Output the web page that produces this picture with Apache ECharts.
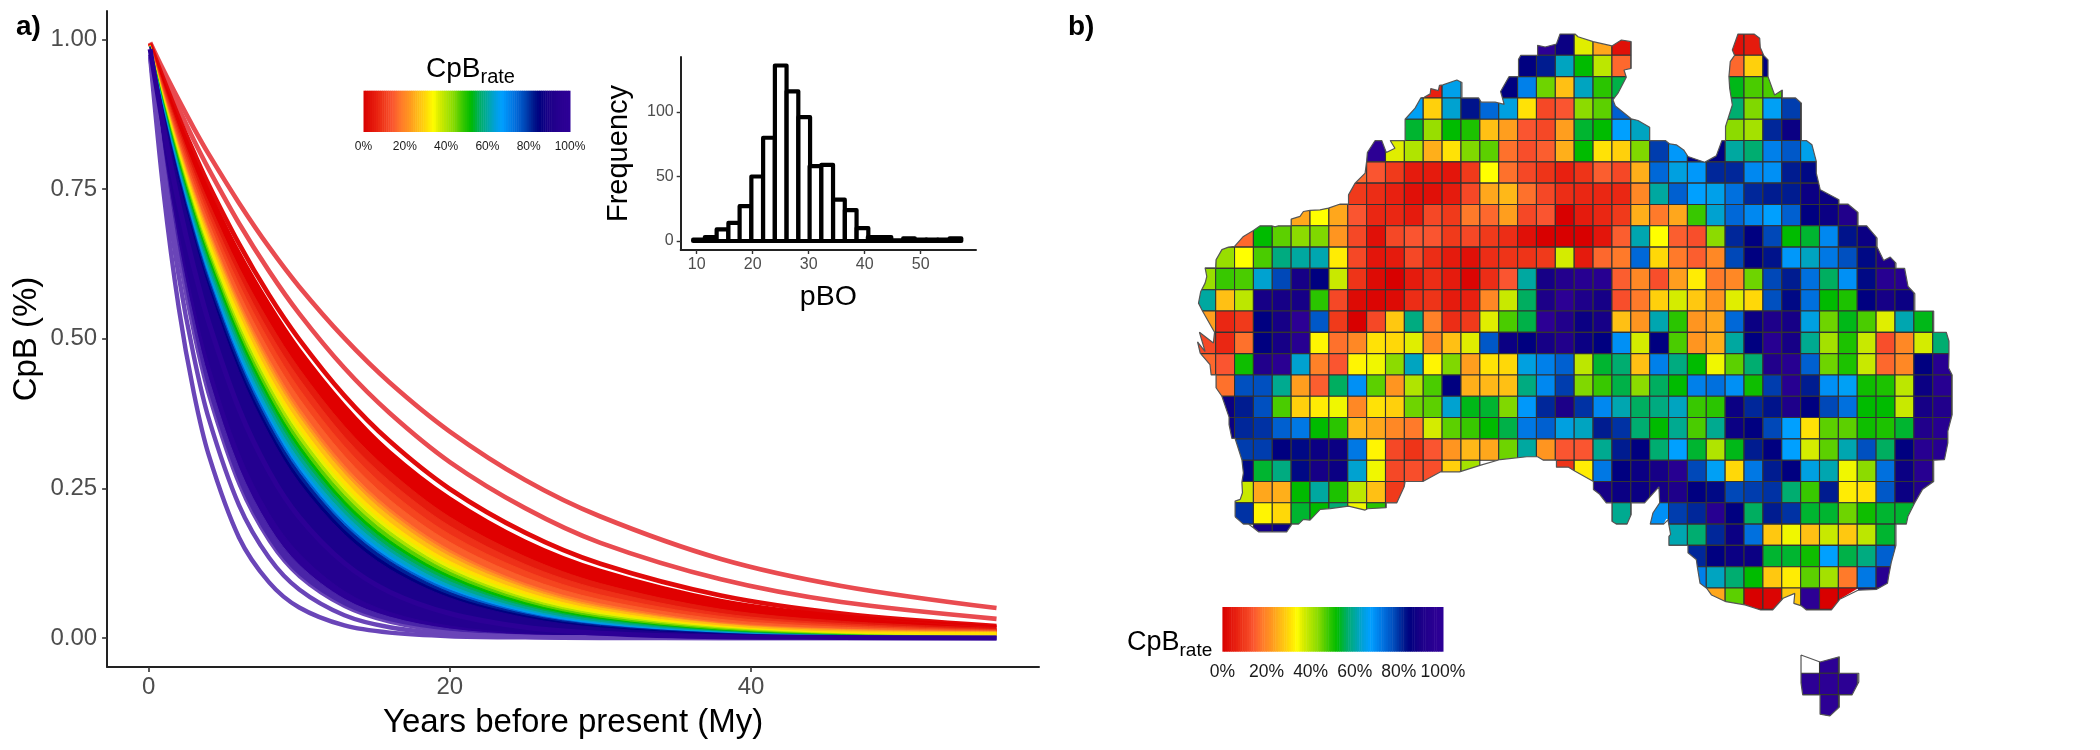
<!DOCTYPE html>
<html><head><meta charset="utf-8">
<style>html,body{margin:0;padding:0;background:#fff}#c{width:2100px;height:750px}</style>
<script src="https://cdn.jsdelivr.net/npm/echarts@6/dist/echarts.min.js"></script>
</head><body><div id="c"></div>
<script>
// ---------- panel a: CpB curves ----------
const years=[0.1,1,2,3,4,6,8,10,13,16,20,25,30,38,46,56.3];
const lightRed1=[.995,.948,.899,.852,.808,.727,.653,.587,.501,.427,.345,.264,.203,.132,.087,.050];
const lightRed2=[.994,.941,.885,.832,.783,.693,.613,.542,.451,.376,.294,.217,.159,.098,.060,.032];
const darkRed=[.993,.933,.870,.812,.757,.659,.573,.499,.405,.329,.249,.176,.124,.071,.041,.020];
const purpleOuter=[.971,.743,.552,.410,.305,.168,.093,.051,.021,.009,.003,.001,0,0,0,0];
const purpleInner=[.975,.778,.605,.471,.366,.222,.134,.081,.038,.018,.007,.002,.001,0,0,0];
const bandEdges=[
[.993,.930,.865,.805,.748,.647,.560,.484,.390,.313,.235,.163,.114,.064,.038,.020],
[.992,.923,.852,.787,.727,.619,.528,.450,.354,.279,.202,.136,.091,.048,.028,.016],
[.992,.920,.846,.778,.715,.605,.511,.433,.336,.262,.187,.123,.081,.041,.024,.014],
[.991,.916,.839,.769,.704,.591,.496,.416,.320,.246,.173,.112,.072,.036,.021,.013],
[.991,.912,.832,.759,.693,.577,.480,.400,.304,.231,.160,.101,.064,.031,.018,.012],
[.990,.909,.826,.750,.682,.563,.465,.384,.288,.216,.147,.091,.057,.026,.015,.011],
[.990,.907,.822,.746,.677,.556,.458,.376,.281,.210,.142,.087,.053,.024,.014,.010],
[.990,.905,.819,.741,.671,.550,.450,.369,.274,.203,.136,.083,.050,.023,.012,.010],
[.990,.902,.814,.735,.663,.540,.439,.358,.263,.193,.128,.077,.046,.020,.010,.009],
[.989,.900,.810,.729,.656,.531,.430,.348,.254,.185,.121,.072,.042,.018,.008,.004],
[.989,.898,.806,.723,.649,.523,.422,.340,.246,.178,.115,.067,.039,.017,.007,.002],
[.989,.895,.802,.718,.643,.515,.413,.331,.238,.171,.110,.063,.036,.015,.006,.002],
[.989,.893,.797,.712,.636,.507,.404,.322,.229,.163,.104,.059,.033,.013,.005,.002],
[.988,.891,.793,.707,.629,.499,.396,.314,.222,.157,.099,.055,.031,.012,.005,.001],
[.988,.888,.789,.701,.623,.492,.388,.306,.215,.150,.094,.052,.029,.011,.004,.001],
[.988,.886,.785,.695,.615,.483,.379,.297,.207,.144,.088,.048,.026,.010,.004,.001],
[.988,.883,.780,.689,.608,.475,.370,.289,.199,.137,.083,.045,.024,.009,.003,.001],
[.987,.881,.776,.684,.603,.468,.364,.282,.193,.132,.080,.042,.022,.008,.003,.001],
[.987,.879,.773,.680,.598,.462,.357,.276,.188,.128,.076,.040,.021,.008,.003,.001],
[.987,.876,.768,.673,.590,.453,.348,.267,.180,.121,.071,.037,.019,.007,.002,.001],
[.987,.874,.763,.667,.583,.445,.340,.259,.173,.115,.067,.034,.017,.006,.002,.001],
[.984,.852,.726,.619,.527,.383,.278,.202,.125,.077,.041,.018,.008,.002,.001,0],
[.981,.822,.676,.555,.457,.309,.208,.141,.078,.043,.020,.007,.003,.001,0,0],
[.979,.811,.657,.533,.432,.284,.186,.122,.065,.035,.015,.005,.002,0,0,0],
];
const bandLowerEdge=[.977,.796,.634,.505,.402,.255,.161,.102,.052,.026,.010,.003,.001,0,0,0];
const bandColors=['#e00000','#e51a0d','#ee3018','#f5451f','#fb5e2a','#ff7a2a','#ff9a20','#ffbe12','#ffe000','#e8f000','#a8e400','#58d000','#00bb00','#00b050','#00a890','#00a4c8','#0098f0','#0060d0','#002098','#000080','#1c008c','#240090','#2c0096','#4a25a8'];
const xTicks=[0,20,40];
const yTicks=[0,.25,.5,.75,1];

// ---------- inset: histogram of pBO ----------
const pboBins=[10.4,12.5,14.6,16.7,18.7,20.8,22.9,25,27.1,29.2,31.2,33.3,35.4,37.5,39.6,41.6,43.7,45.8,47.9,50,52,54.1,56.2];
const pboCounts=[1,3,9,14,27,50,80,136,116,96,58,59,32,24,10,3,3,.5,2,1,1,1,2];
const pboBinWidth=2.083;
const insetXTicks=[10,20,30,40,50];
const insetYTicks=[0,50,100];

// ---------- colour scale of CpB rate ----------
const rampValues=[0,6,10,14,18,22,26,30,34,36,40,44,48,52,56,60,64,67,70,74,78,82,85,90,97,100];
const rampColors=['#d80000','#e82010','#f03a1b','#fa5530','#ff7a2a','#ff9520','#ffb818','#ffd808','#ffff00','#e0ee00','#b0e400','#80d800','#38c800','#00bb00','#00ae60','#00a8a0','#00a0e0','#00a0ff','#0088f0','#0068d8','#0048b8','#001c90','#000080','#1c0088','#2c0094','#2c0096'];
const legendTicks=[0,20,40,60,80,100];

// ---------- panel b: CpB rate per map cell, [first column, values of the row] ----------
const _=null;
const cellRows=[
[18,[97,87,36,24,3,_,_,_,_,_,3,5]],
[17,[85,82,62,52,39,16,_,_,_,_,_,16,29,85]],
[12,[6,65,_,_,85,71,45,27,62,49,55,_,_,_,_,_,53,47,47]],
[11,[66,29,63,83,74,64,31,12,14,43,46,75,_,_,_,_,_,57,44,66,79]],
[11,[54,42,52,50,27,23,14,12,23,54,52,67,62,_,_,_,_,43,41,81,87]],
[9,[97,36,40,25,31,44,46,17,13,15,25,52,31,29,44,79,68,85,85,60,57,71,76,65]],
[8,[16,14,10,5,5,4,10,34,17,12,9,6,9,15,12,25,74,64,68,81,81,70,69,82,84]],
[8,[10,8,6,3,3,5,12,24,26,17,12,8,7,7,7,20,60,75,67,65,73,81,82,82,87,87]],
[5,[24,34,24,14,7,7,5,12,10,18,16,23,12,14,0,5,7,10,25,18,24,48,63,74,70,67,75,85,87,92]],
[2,[16,52,46,43,44,22,12,3,12,14,14,10,12,10,8,3,0,0,0,4,15,61,34,15,13,43,81,85,78,52,54,70,83,87]],
[1,[42,34,47,58,60,61,32,12,4,5,12,8,5,3,8,9,9,10,37,5,16,18,74,30,18,15,20,78,85,83,68,62,72,77,84,90]],
[0,[42,48,47,63,78,89,85,38,9,2,0,5,8,5,1,8,14,60,89,93,95,95,15,20,13,23,32,18,20,45,78,82,73,56,69,84,95,95]],
[0,[60,27,39,89,89,89,49,12,2,1,2,8,9,5,6,20,38,56,90,97,91,89,13,18,29,37,28,22,36,30,77,84,73,52,50,85,89,87]],
[0,[23,7,10,85,89,97,76,10,0,12,28,58,19,8,10,36,47,55,97,92,87,89,27,22,61,49,22,24,74,87,91,89,64,45,53,47,36,61,53]],
[0,[12,7,17,85,89,95,33,17,20,31,30,36,20,27,36,76,87,85,89,92,87,85,69,37,85,47,22,25,60,85,95,89,59,41,50,38,13,20,37,57]],
[0,[16,14,51,92,96,63,19,14,33,35,43,62,33,44,23,31,30,64,71,75,39,54,57,27,71,58,52,35,46,57,92,95,75,45,50,38,16,20,85,95]],
[1,[17,77,77,59,23,15,56,69,46,22,40,47,85,25,26,27,58,70,79,44,48,55,43,56,52,71,73,69,51,79,95,82,69,66,51,50,39,87,95]],
[1,[87,82,77,47,29,32,35,20,31,29,45,46,63,53,54,44,68,81,90,80,70,61,56,58,62,48,49,87,81,83,91,85,78,73,52,52,38,89,92]],
[1,[87,81,80,75,72,52,49,26,24,20,18,37,46,48,52,55,72,75,64,62,82,80,57,52,59,47,59,87,85,78,67,31,46,46,51,50,54,92,95]],
[2,[79,79,85,84,87,87,72,33,12,9,14,22,26,24,45,60,22,14,14,59,82,85,57,67,54,40,53,82,85,67,37,46,61,77,56,85,95,95]],
[2,[84,54,58,84,89,87,63,35,12,13,13,29,41,_,_,_,_,9,32,72,85,87,89,95,78,66,30,72,82,85,64,61,35,43,73,87,95]],
[2,[38,24,25,52,60,50,39,27,10,_,_,_,_,_,_,_,_,_,_,89,87,87,89,91,85,84,78,79,80,57,48,82,32,31,76,87,92]],
[2,[80,33,30,54,52,57,35,49,_,_,_,_,_,_,_,_,_,_,_,_,59,_,69,79,81,95,85,56,82,80,54,54,45,51,54,54]],
[3,[89,87,_,_,_,_,_,_,_,_,_,_,_,_,_,_,_,_,_,_,_,_,61,57,81,87,73,28,35,27,38,28,39,54]],
[26,[81,85,87,87,54,54,51,67,55,58,75]],
[26,[71,62,57,52,28,32,46,41,18,72,95]],
[27,[24,46,0,1,28,97,0,1,87,92]],
[33,[]],
[33,[]],
[33,[97]],
[32,[97,97,97]],
[33,[97]],
];
const mainlandCoast=[[2.03,22.66],[2.03,21.92],[2.3,21.84],[2.42,21.53],[2.39,21.03],[2.47,20.6],[2.39,19.98],[2.03,18.98],[1.86,18.98],[1.71,18.33],[1.71,17.98],[1.33,17],[1.02,16.6],[1.02,16],[.76,16],[.7,15.52],[.18,14.98],[.04,14.45],[.44,14.9],[.14,14],[.88,14.5],[.94,14],[.3,13],[.09,12.63],[.21,12.08],[.44,11.69],[.53,11.38],[.44,10.98],[1,10.98],[1.02,10.6],[1.33,10.12],[1.68,10],[2,9.97],[2.47,9.5],[3,9.22],[3.36,9],[3.97,9],[4.15,9.05],[4.33,9],[5,9],[5,8.69],[5.47,8.56],[5.65,8.33],[6,8.28],[6.53,8.25],[6.98,8.17],[7.6,7.98],[8.04,7.98],[8.04,7.55],[8.39,7],[8.92,6.53],[9,5.98],[9.04,5.56],[9.45,5],[9.8,5],[10.04,5.56],[10.5,5.36],[10.25,5],[11.04,5],[11.04,4],[11.57,3.48],[11.87,3],[12.05,2.97],[12.37,2.81],[12.4,2.56],[12.8,2.66],[12.86,2.41],[13.04,2.39],[13.78,2.16],[14.05,2.28],[14.05,3],[14.93,3],[15.07,3.2],[15.81,3.2],[16.29,3.3],[16.1,2.7],[16.55,2],[17.05,2],[17.05,1.19],[17.17,1],[18.06,1],[18.06,.53],[18.46,.61],[19.06,.47],[19.25,0],[20.04,0],[20.2,.13],[21,.36],[22,.56],[22.5,.28],[23.02,.36],[23.02,1],[23.02,1.61],[22.64,1.69],[22.76,2.03],[22.32,2.78],[22.05,3.09],[22.18,3.38],[23.02,3.98],[23.38,4.06],[24,4.38],[24,5],[24.83,5],[25.06,5.16],[25.41,5.2],[25.8,5.44],[26.03,5.75],[26.91,6.02],[27.53,5.72],[27.83,5],[28.02,5],[28.02,4.34],[28.38,3.33],[28.24,2.55],[28.2,2],[28.27,1.3],[28.5,1],[28.38,.75],[28.68,0],[29.53,0],[29.83,.2],[29.86,.63],[30.04,1],[30.27,1.22],[30.27,2],[30.62,2.86],[31.03,2.63],[31.03,3],[31.73,3],[32.04,3.25],[32.04,5],[32.3,5],[32.6,5.2],[32.83,5.98],[32.83,6.53],[33.04,7.31],[34.03,7.78],[34.03,7.98],[34.5,7.98],[35.04,8.38],[35.04,9],[35.5,9],[36.05,9.58],[36.05,10],[36.4,10.63],[36.75,10.47],[37.05,10.75],[37.05,11],[37.51,11],[37.69,11.84],[38.05,12.19],[38.05,13],[39.05,13],[39.05,14],[39.72,14],[39.86,14.42],[39.86,15],[39.84,15.67],[40.03,16],[40.03,17.86],[39.8,18.64],[39.8,19.19],[39.62,19.98],[39.05,20],[39.05,21],[38.45,21.38],[38.05,22],[37.69,22.63],[37.6,23],[37.05,23],[37.05,24],[36.8,24.81],[36.68,25.36],[36.6,25.78],[36.03,26.06],[35.04,26.1],[35.04,26.01],[34.07,26.53],[33.63,27.03],[32.31,27.03],[32.05,26.84],[31.64,26.72],[31.69,26.25],[31.07,26.48],[30.51,27.03],[29.88,27.03],[29.05,26.79],[28.04,26.64],[27.28,26.33],[27.02,26.01],[26.67,25.78],[26.53,25.03],[26.47,24.66],[26.03,24.34],[26.03,24],[25.02,24],[25.02,23.58],[25.11,23.48],[24.97,22.8],[24.88,22.75],[24.74,23],[24.03,23],[24.17,22.48],[24.53,22],[24.49,21.25],[23.73,22],[23.02,22],[23.02,22.55],[22.8,23],[22.23,23],[22,22.87],[22,22],[21.7,22],[21.35,21.6],[21.02,21.38],[21.02,21],[20.05,20.52],[19.7,20.33],[19.06,20.33],[19.06,20],[18.37,20],[18.06,19.84],[17.49,19.84],[16.08,19.97],[15.05,20.23],[13.92,20.55],[12.9,20.55],[11.98,21],[11.04,21],[10.99,21.25],[10.6,22],[10.04,22],[10.04,22.23],[9.05,22.28],[8.92,22.34],[8.04,22.16],[7.07,22.27],[6.54,22.31],[6,22.81],[5.65,22.78],[5.39,23],[5.04,23],[4.77,23.36],[3.27,23.36],[3,23.17],[2.74,23],[2.47,23]];
const tasmaniaCoast=[[32.02,29.14],[33.03,29.47],[34.05,29.23],[34.05,30],[35.08,30],[35.08,30.41],[34.72,31.02],[34.05,31.02],[34.05,31.58],[33.55,32],[33.03,31.92],[33.03,31.02],[32.11,31.02],[32.02,30.45]];

const font='"Liberation Sans",Arial,sans-serif';
const tickGrey='#4d4d4d';
function hex(c){return [1,3,5].map(i=>parseInt(c.substr(i,2),16));}
function rampColor(v){
  let i=0; while(i<rampValues.length-2 && v>rampValues[i+1]) i++;
  const t=(v-rampValues[i])/(rampValues[i+1]-rampValues[i]);
  const a=hex(rampColors[i]),b=hex(rampColors[i+1]);
  return 'rgb('+a.map((x,k)=>Math.round(x+(b[k]-x)*t)).join(',')+')';
}
const pairs=vals=>vals.map((v,i)=>[years[i],v]);
const curveLine=(vals,color,width,areaColor)=>({type:'line',xAxisIndex:0,yAxisIndex:0,data:pairs(vals),showSymbol:false,smooth:.33,silent:true,
  lineStyle:{color,width,cap:'butt'},itemStyle:{color},areaStyle:areaColor?{color:areaColor,opacity:1,origin:'auto'}:undefined});
// white edges that hide the seams of the layered fills along the y=0 baseline and the curves' start
const seam=data=>({type:'line',xAxisIndex:0,yAxisIndex:0,data,showSymbol:false,silent:true,lineStyle:{color:'#fff',width:3,cap:'butt'}});

const cells=[];
cellRows.forEach((row,r)=>row[1].forEach((v,i)=>{if(v!==null)cells.push([row[0]+i,r,v]);}));
const legendSteps=Array.from({length:100},(_x,i)=>[i,i+.5]);

const stripRender=(params,api)=>{
  const v=api.value(0),p=api.coord([v,1]),q=api.coord([v+1,0]);
  return {type:'rect',shape:{x:p[0],y:p[1],width:q[0]-p[0]+.5,height:q[1]-p[1]},style:{fill:rampColor(api.value(1))}};
};
const histRender=(params,api)=>{
  const x=api.value(0),p=api.coord([x-pboBinWidth/2,api.value(1)]),q=api.coord([x+pboBinWidth/2,0]);
  return {type:'rect',shape:{x:p[0],y:p[1],width:q[0]-p[0],height:q[1]-p[1]},style:{fill:'#fff',stroke:'#000',lineWidth:4.2,lineJoin:'round'}};
};
let mainPx=null,tasPx=null;
const cellRender=(params,api)=>{
  if(!mainPx){mainPx=mainlandCoast.map(p=>api.coord(p));tasPx=tasmaniaCoast.map(p=>api.coord(p));}
  const c=api.value(0),r=api.value(1),p=api.coord([c,r]),q=api.coord([c+1,r+1]);
  return {type:'rect',shape:{x:p[0],y:p[1],width:q[0]-p[0],height:q[1]-p[1]},
    style:{fill:rampColor(api.value(2)),stroke:'#333',lineWidth:1.1},
    clipPath:{type:'polygon',shape:{points:r>=28?tasPx:mainPx}}};
};
const coastLine=pts=>({type:'line',xAxisIndex:4,yAxisIndex:4,data:pts.concat([pts[0]]),showSymbol:false,silent:true,clip:false,z:5,lineStyle:{color:'#555',width:1.2}});
const hiddenAxis=o=>Object.assign({type:'value',show:false,splitLine:{show:false}},o);

const series=[
  curveLine(lightRed1,'#e94b50',4.6),
  curveLine(lightRed2,'#e94b50',4.6),
  curveLine(darkRed,'#e00a0a',4.6),
];
bandEdges.forEach((vals,i)=>series.push(curveLine(vals,bandColors[i],i===0?2:1,bandColors[i])));
series.push(curveLine(bandLowerEdge,'#6a45b8',2.5,'#ffffff'));
series.push(seam([[years[0],0],[years[years.length-1],0]]));
series.push(seam([[years[0],0],[years[0],.96]]));
series.push(curveLine(purpleInner,'#6a45b8',4.4));
series.push(curveLine(purpleOuter,'#6a45b8',4.4));
series.push(curveLine(bandEdges[21],'#2c0096',5));
series.push({type:'custom',xAxisIndex:1,yAxisIndex:1,data:pboBins.map((x,i)=>[x,pboCounts[i]]),renderItem:histRender,silent:true,animation:false,clip:false});
series.push({type:'custom',xAxisIndex:2,yAxisIndex:2,data:legendSteps,renderItem:stripRender,silent:true,animation:false});
series.push({type:'custom',xAxisIndex:3,yAxisIndex:3,data:legendSteps,renderItem:stripRender,silent:true,animation:false});
series.push({type:'custom',xAxisIndex:4,yAxisIndex:4,data:cells,renderItem:cellRender,silent:true,animation:false,progressive:0});
series.push(coastLine(mainlandCoast));
series.push(coastLine(tasmaniaCoast));

const legendXAxis=(grid,size,margin)=>({type:'value',gridIndex:grid,min:0,max:100,axisLine:{show:false},axisTick:{show:false},splitLine:{show:false},
  axisLabel:{customValues:legendTicks,formatter:'{value}%',fontFamily:font,fontSize:size,color:'#1a1a1a',margin,hideOverlap:false,showMinLabel:true,showMaxLabel:true}});
const subscriptRich=(a,b)=>({a:{fontFamily:font,fontSize:a,fontWeight:'normal',color:'#000',verticalAlign:'bottom'},b:{fontFamily:font,fontSize:b,fontWeight:'normal',color:'#000',verticalAlign:'bottom',padding:[0,0,-4,0]}});

const chart=echarts.init(document.getElementById('c'),null,{renderer:'canvas'});
chart.setOption({
  animation:false,backgroundColor:'#fff',
  title:[
    {text:'a)',left:11,top:8,textStyle:{fontFamily:font,fontSize:28,fontWeight:'bold',color:'#000'}},
    {text:'b)',left:1063,top:8,textStyle:{fontFamily:font,fontSize:28,fontWeight:'bold',color:'#000'}},
    {text:'{a|CpB}{b|rate}',left:421,top:50,textStyle:{rich:subscriptRich(28,20)}},
    {text:'{a|CpB}{b|rate}',left:1122,top:624,textStyle:{rich:subscriptRich(27,19)}},
  ],
  grid:[
    {left:107.1,top:11,width:931.9,height:656,outerBoundsMode:'none'},
    {left:680.7,top:57,width:295.3,height:193,outerBoundsMode:'none'},
    {left:363.5,top:90.7,width:206.5,height:41.3,outerBoundsMode:'none'},
    {left:1222.4,top:607,width:220.6,height:44.7,outerBoundsMode:'none'},
    {left:1196.8,top:34,width:773.67,height:703.2,outerBoundsMode:'none'},
  ],
  xAxis:[
    {type:'value',gridIndex:0,min:-2.756,max:59.12,splitLine:{show:false},name:'Years before present (My)',nameLocation:'middle',nameGap:39,
      nameTextStyle:{fontFamily:font,fontSize:33,color:'#000'},
      axisLine:{onZero:false,lineStyle:{color:'#222',width:2}},
      axisTick:{customValues:xTicks,length:5,lineStyle:{color:'#333',width:1.6}},
      axisLabel:{customValues:xTicks,fontFamily:font,fontSize:24,color:tickGrey,margin:8}},
    {type:'value',gridIndex:1,min:7.14,max:59.87,splitLine:{show:false},name:'pBO',nameLocation:'middle',nameGap:33,
      nameTextStyle:{fontFamily:font,fontSize:28.5,color:'#000'},
      axisLine:{onZero:false,lineStyle:{color:'#222',width:2}},
      axisTick:{customValues:insetXTicks,length:4,lineStyle:{color:'#333',width:1.4}},
      axisLabel:{customValues:insetXTicks,fontFamily:font,fontSize:16,color:tickGrey,margin:7}},
    legendXAxis(2,12,9),
    legendXAxis(3,17.5,11),
    hiddenAxis({gridIndex:4,min:0,max:41}),
  ],
  yAxis:[
    {type:'value',gridIndex:0,min:-0.04845,max:1.0476,splitLine:{show:false},name:'CpB (%)',nameLocation:'middle',nameGap:64,
      nameTextStyle:{fontFamily:font,fontSize:33,color:'#000'},
      axisLine:{onZero:false,lineStyle:{color:'#222',width:2}},
      axisTick:{customValues:yTicks,length:5,lineStyle:{color:'#333',width:1.6}},
      axisLabel:{customValues:yTicks,formatter:v=>v.toFixed(2),fontFamily:font,fontSize:24,color:tickGrey,margin:10}},
    {type:'value',gridIndex:1,min:-6.98,max:142.6,splitLine:{show:false},name:'Frequency',nameLocation:'middle',nameGap:47,
      nameTextStyle:{fontFamily:font,fontSize:29,color:'#000'},
      axisLine:{onZero:false,lineStyle:{color:'#222',width:2}},
      axisTick:{customValues:insetYTicks,length:4,lineStyle:{color:'#333',width:1.4}},
      axisLabel:{customValues:insetYTicks,fontFamily:font,fontSize:16,color:tickGrey,margin:7}},
    hiddenAxis({gridIndex:2,min:0,max:1}),
    hiddenAxis({gridIndex:3,min:0,max:1}),
    hiddenAxis({gridIndex:4,min:0,max:33,inverse:true}),
  ],
  series
});
</script></body></html>
